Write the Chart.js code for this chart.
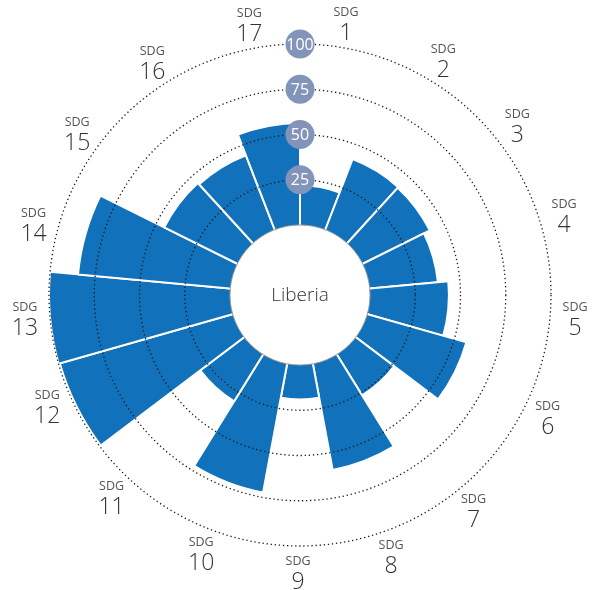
<!DOCTYPE html>
<html>
<head>
<meta charset="utf-8">
<script src="https://cdn.jsdelivr.net/npm/chart.js@4/dist/chart.umd.min.js"></script>
<style>
  html, body { margin: 0; padding: 0; background: #ffffff; }
  #wrap { width: 598px; height: 590px; }
</style>
</head>
<body>
<div id="wrap"><canvas id="c" width="598" height="590"></canvas></div>
<script>
// ---- data ----
const categories = ['1','2','3','4','5','6','7','8','9','10','11','12','13','14','15','16','17'];
const labelPrefix = 'SDG';
const scores = [22, 41.9, 41.4, 37.8, 43.6, 56.9, 26.5, 59.6, 19, 72.3, 30.4, 99.3, 100, 84.5, 45.1, 44.1, 56.3];
const gridTicks = [25, 50, 75, 100];
const countryName = 'Liberia';

const scaleMin = -38.7;   // leaves a hole in the middle where 0 sits on its edge
const scaleMax = 100;

// small angular nudges (degrees) of the outer labels, as placed in the original
const labelNudge = [-1, -0.5, -1, -1, -0.7, -0.3, 3.4, 1.9, 0.4, -0.2, 0.7, 2.8, 0.7, -0.8, -0.9, -0.6, 0];

const FONT = '"Open Sans", "DejaVu Sans", sans-serif';

const overlayPlugin = {
  id: 'overlay',
  afterDraw(chart) {
    const r = chart.scales.r;
    const ctx = chart.ctx;
    const cx = r.xCenter, cy = r.yCenter;
    ctx.save();
    // centre hole
    const holeR = r.getDistanceFromCenterForValue(0);
    ctx.beginPath();
    ctx.arc(cx, cy, holeR, 0, Math.PI * 2);
    ctx.fillStyle = '#ffffff';
    ctx.fill();
    ctx.lineWidth = 1;
    ctx.strokeStyle = '#9a9a9a';
    ctx.stroke();
    ctx.fillStyle = '#333333';
    ctx.font = '300 19px ' + FONT;
    ctx.textAlign = 'center';
    ctx.textBaseline = 'middle';
    ctx.fillText(countryName, cx, cy + 1);

    // tick badges
    gridTicks.forEach(v => {
      const d = r.getDistanceFromCenterForValue(v);
      ctx.beginPath();
      ctx.arc(cx, cy - d, 14.5, 0, Math.PI * 2);
      ctx.fillStyle = '#8394bb';
      ctx.fill();
      ctx.fillStyle = '#ffffff';
      ctx.font = '400 16px ' + FONT;
      ctx.fillText(String(v), cx, cy - d + 1);
    });

    // category labels
    const n = categories.length;
    const step = Math.PI * 2 / n;
    const labelR = 276;
    categories.forEach((cat, i) => {
      const a = -Math.PI / 2 + step * (i + 0.5) + (labelNudge[i] || 0) * Math.PI / 180;
      const x = cx + labelR * Math.cos(a);
      const y = cy + labelR * Math.sin(a);
      ctx.fillStyle = '#555555';
      ctx.font = '400 12.5px ' + FONT;
      ctx.fillText(labelPrefix, x, y - 10);
      ctx.fillStyle = '#333333';
      ctx.font = '300 23px ' + FONT;
      ctx.fillText(cat, x, y + 11);
    });
    ctx.restore();
  }
};

new Chart(document.getElementById('c'), {
  type: 'polarArea',
  data: {
    labels: categories.map(c => labelPrefix + ' ' + c),
    datasets: [{
      data: scores,
      backgroundColor: '#1171ba',
      borderColor: '#ffffff',
      borderWidth: 2
    }]
  },
  options: {
    responsive: false,
    animation: false,
    layout: { padding: { left: 46, right: 44, top: 44, bottom: 44 } },
    plugins: { legend: { display: false }, tooltip: { enabled: false } },
    scales: {
      r: {
        min: scaleMin,
        max: scaleMax,
        startAngle: 0,
        ticks: { display: false, stepSize: 25 },
        pointLabels: { display: false },
        angleLines: { display: false },
        grid: {
          z: 1,
          circular: true,
          lineWidth: 1.3,
          color: (c) => (c.tick && gridTicks.includes(c.tick.value)) ? '#1a1a1a' : 'rgba(0,0,0,0)'
        },
        border: { dash: [1.3, 2.8] }
      }
    }
  },
  plugins: [overlayPlugin]
});
</script>
</body>
</html>
